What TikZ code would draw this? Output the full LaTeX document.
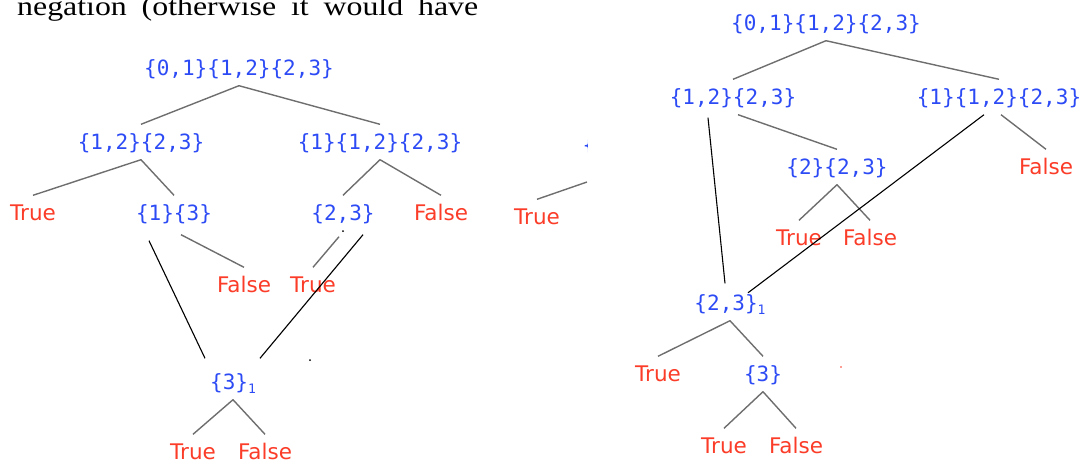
\documentclass[tikz,border=0pt]{standalone}
\usepackage{fontspec}
\setmainfont{Liberation Serif}
\newfontfamily\monofam{DejaVu Sans Mono}
\newfontfamily\sansfam{DejaVu Sans}
\usetikzlibrary{calc}
\definecolor{setblue}{RGB}{45,75,245}
\definecolor{valred}{RGB}{250,60,40}
\definecolor{edgegrey}{RGB}{110,110,110}
\newcommand\subone{\raisebox{-4pt}{\fontsize{13}{13}\selectfont 1}}
\tikzset{
  setnode/.style={font=\monofam\fontsize{21}{21}\selectfont,text=setblue,inner xsep=0pt,inner ysep=10pt,text height=15pt,text depth=0pt},
  valnode/.style={font=\sansfam\fontsize{21.5}{21.5}\selectfont,text=valred,inner xsep=0pt,inner ysep=10pt,text height=15pt,text depth=0pt},
  edge/.style={draw=edgegrey,line width=1.4pt},
  link/.style={draw=black,line width=1.1pt},
}

\begin{document}
\begin{tikzpicture}[x=1pt,y=-1pt]
\useasboundingbox(0,0)rectangle(1088,464);
\node[anchor=base west,inner sep=0pt,font=\fontsize{27}{27}\selectfont](txt)at(17,15){\scalebox{1.18}[1]{\makebox[390.7pt][s]{negation (otherwise it would have}}};
% left tree
\node[setnode](lroot)at(239,68){\{0,1\}\{1,2\}\{2,3\}};
\node[setnode](l12)at(141,142){\{1,2\}\{2,3\}};\node[setnode](l112)at(380,142){\{1\}\{1,2\}\{2,3\}};
\node[valnode](lT1)at(33,213){True};\node[setnode](l13)at(174,213){\{1\}\{3\}};
\node[setnode](l23)at(343,213){\{2,3\}};\node[valnode](lF1)at(441,213){False};
\node[valnode](lF2)at(244,285){False};\node[valnode](lT2)at(313,285){True};
\node[setnode](l3)at(233,382){\{3\}\subone};
\node[valnode](lT3)at(193,452){True};\node[valnode](lF3)at(265,452){False};
\draw[edge](lroot.south)--(l12.north);\draw[edge](lroot.south)--(l112.north);
\draw[edge](l12.south)--(lT1.north);\draw[edge](l12.south)--(l13.north);
\draw[edge](l112.south)--(l23.north);\draw[edge](l112.south)--(lF1.north);
\draw[edge]([shift={(7pt,-4pt)}]l13.south)--(lF2.north);
\draw[edge]([shift={(-4pt,-6pt)}]l23.south)--(lT2.north);
\draw[link]([shift={(-25pt,-10pt)}]l13.south)--([shift={(-28pt,6pt)}]l3.north);
\draw[link]([shift={(20pt,-4pt)}]l23.south)--([shift={(27pt,6pt)}]l3.north);
\draw[edge](l3.south)--(lT3.north);\draw[edge](l3.south)--(lF3.north);
\fill(343,231)circle(1pt);\fill(310,360)circle(1pt);
% cut-off piece
\node[valnode](fT)at(537,217){True};\coordinate(fe)at(587,182);
\draw[edge](fT.north)--(fe);
\begin{scope}\clip(560,120)rectangle(587.5,170);\node[setnode](fb)at(589,145){\{};\end{scope}
% right tree
\node[setnode](rroot)at(826,23){\{0,1\}\{1,2\}\{2,3\}};
\node[setnode](r12)at(733,97){\{1,2\}\{2,3\}};\node[setnode](r112)at(999,97){\{1\}\{1,2\}\{2,3\}};
\node[setnode](r2)at(837,167){\{2\}\{2,3\}};\node[valnode](rF1)at(1046,167){False};
\node[valnode](rT1)at(799,238){True};\node[valnode](rF2)at(870,238){False};
\node[setnode](r23)at(730,303){\{2,3\}\subone};
\node[valnode](rT2)at(658,374){True};\node[setnode](r3)at(763,374){\{3\}};
\node[valnode](rT3)at(724,446){True};\node[valnode](rF3)at(796,446){False};
\draw[edge](rroot.south)--(r12.north);\draw[edge](rroot.south)--(r112.north);
\draw[edge]([xshift=5pt]r12.south)--(r2.north);\draw[edge]([xshift=2pt]r112.south)--(rF1.north);
\draw[edge](r2.south)--(rT1.north);\draw[edge](r2.south)--(rF2.north);
\draw[link]([shift={(-25pt,-3pt)}]r12.south)--([shift={(-5pt,2pt)}]r23.north);
\draw[link]([xshift=-15pt]r112.south)--([shift={(18pt,-7.5pt)}]r23.north);
\draw[edge](r23.south)--(rT2.north);\draw[edge](r23.south)--(r3.north);
\draw[edge](r3.south)--(rT3.north);\draw[edge](r3.south)--(rF3.north);
\fill[valred](841,367)circle(.8pt);
\end{tikzpicture}
\end{document}
